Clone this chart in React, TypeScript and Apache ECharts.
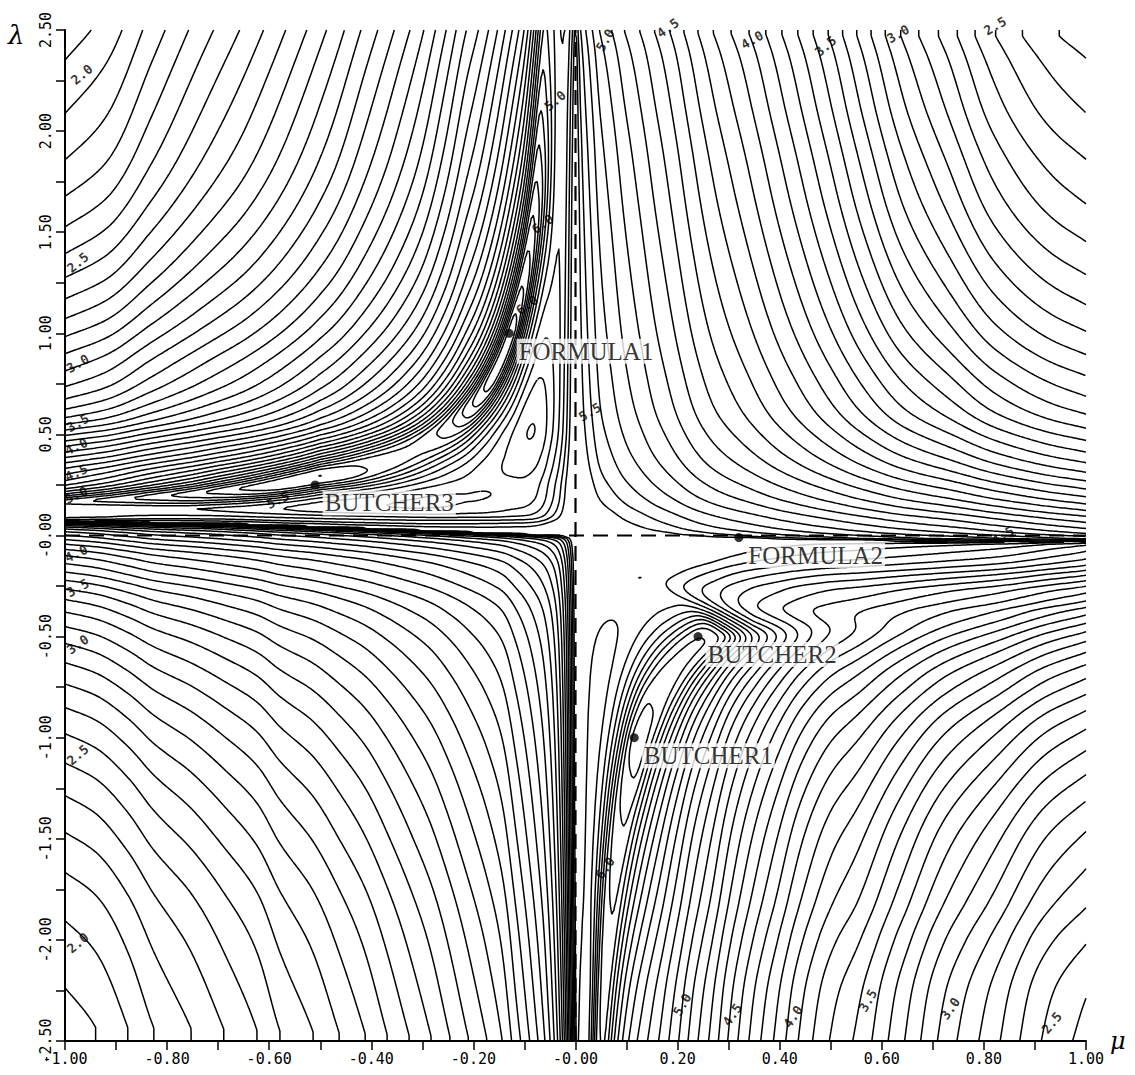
import React, { useEffect, useRef } from 'react';
import * as echarts from 'echarts';

// ---------------- contour levels (every 0.1) ----------------
const LEVELS = [1.9, 2.0, 2.1, 2.2, 2.3, 2.4, 2.5, 2.6, 2.7, 2.8, 2.9, 3.0, 3.1, 3.2, 3.3, 3.4, 3.5, 3.6, 3.7, 3.8, 3.9,
  4.0, 4.1, 4.2, 4.3, 4.4, 4.5, 4.6, 4.7, 4.8, 4.9, 5.0, 5.1, 5.2, 5.3, 5.4, 5.5, 5.6, 5.7, 5.8, 5.9, 6.0, 6.1, 6.2, 6.3];

// ---------------- level profiles read along the plot edges ----------------
// [ |coordinate| (|mu| on the top/bottom edge, |lambda|/2.5 on the side edges), level ]
const UR_TOP = [[0.0001, 5.57], [0.001, 5.52], [0.004, 5.42], [0.01, 5.3], [0.02, 5.2], [0.033, 5.1], [0.047, 5.0], [0.071, 4.9],
  [0.096, 4.8], [0.126, 4.7], [0.155, 4.6], [0.185, 4.5], [0.27, 4.2], [0.34, 4.0], [0.42, 3.75], [0.495, 3.5], [0.565, 3.25],
  [0.637, 3.0], [0.73, 2.75], [0.823, 2.5], [0.93, 2.32], [1.0, 2.25]];
const UR_RIGHT = [[0.0001, 5.57], [0.0006, 5.4], [0.002, 5.2], [0.005, 5.0], [0.01, 4.9], [0.016, 4.8], [0.028, 4.68], [0.044, 4.55],
  [0.068, 4.35], [0.084, 4.23], [0.104, 4.1], [0.12, 4.0], [0.156, 3.8], [0.2, 3.6], [0.252, 3.4], [0.328, 3.2], [0.416, 3.0],
  [0.528, 2.8], [0.668, 2.6], [0.756, 2.5], [0.848, 2.4], [0.956, 2.3], [1.0, 2.25]];
const UL_TOP = [[0.0001, 5.57], [0.002, 5.5], [0.008, 5.35], [0.02, 5.1], [0.035, 4.85], [0.05, 4.65], [0.065, 4.45], [0.08, 4.3],
  [0.1, 4.18], [0.126, 4.1], [0.159, 3.98], [0.194, 3.86], [0.214, 3.8], [0.257, 3.62], [0.3, 3.45], [0.356, 3.28], [0.413, 3.12],
  [0.48, 2.93], [0.556, 2.75], [0.64, 2.57], [0.74, 2.38], [0.83, 2.19], [0.92, 1.99], [1.0, 1.9]];
const UL_LEFT = [[0.0001, 5.57], [0.002, 5.45], [0.01, 5.2], [0.02, 5.0], [0.04, 4.55], [0.07, 4.3], [0.1, 4.18], [0.148, 3.84],
  [0.175, 3.62], [0.205, 3.39], [0.26, 3.14], [0.33, 2.94], [0.42, 2.7], [0.53, 2.46], [0.7, 2.19], [0.91, 1.98], [1.0, 1.9]];
const LL_BOTTOM = [[0.0001, 5.57], [0.003, 5.3], [0.01, 5.0], [0.02, 4.65], [0.035, 4.3], [0.06, 4.0], [0.09, 3.8], [0.117, 3.65],
  [0.144, 3.5], [0.174, 3.4], [0.21, 3.3], [0.246, 3.2], [0.283, 3.1], [0.326, 3.0], [0.369, 2.9], [0.412, 2.8],
  [0.463, 2.7], [0.514, 2.6], [0.579, 2.5], [0.624, 2.4], [0.689, 2.3], [0.753, 2.2], [0.826, 2.1], [0.877, 2.0], [0.94, 1.9], [1.0, 1.85]];
const LL_LEFT = [[0.0001, 5.57], [0.0005, 5.4], [0.002, 5.0], [0.006, 4.6], [0.015, 4.3], [0.036, 4.0], [0.065, 3.72], [0.1, 3.5],
  [0.15, 3.22], [0.208, 3.0], [0.3, 2.75], [0.42, 2.5], [0.6, 2.22], [0.79, 2.0], [1.0, 1.85]];
const LR_BOTTOM = [[0.0001, 5.575], [0.005, 5.5], [0.015, 5.35], [0.03, 5.2], [0.05, 5.12], [0.068, 5.08], [0.097, 5.04], [0.126, 5.0],
  [0.16, 4.92], [0.195, 4.79], [0.23, 4.63], [0.267, 4.47], [0.307, 4.27], [0.348, 4.09], [0.395, 3.91], [0.444, 3.72],
  [0.5, 3.55], [0.553, 3.44], [0.635, 3.2], [0.718, 2.95], [0.82, 2.71], [0.925, 2.46], [1.0, 2.35]];
const LR_RIGHT = [[0.0001, 5.57], [0.001, 5.4], [0.004, 5.25], [0.012, 5.15], [0.022, 5.08], [0.034, 5.0], [0.046, 4.9], [0.056, 4.8],
  [0.065, 4.7], [0.075, 4.6], [0.085, 4.5], [0.095, 4.4], [0.109, 4.3], [0.123, 4.2], [0.135, 4.1], [0.152, 4.0], [0.188, 3.8],
  [0.234, 3.6], [0.261, 3.5], [0.293, 3.4], [0.362, 3.2], [0.452, 3.0], [0.564, 2.8], [0.716, 2.6], [0.788, 2.5], [0.888, 2.4], [1.0, 2.35]];

const CENTRE_PLATEAU = 5.58;
const CORNER_SQUARENESS = 0.25; // combining power grows from 1 (additive, near the outer corners) towards the axes

// ridge along |mu|*|lambda|/2.5 = c (upper-left and lower-right quadrants): [|mu|, c] and [|mu| on the ridge, peak level]
const UL_RIDGE_C = [[0, 0.05], [0.5, 0.05], [0.75, 0.038], [1.0, 0.03]];
const UL_RIDGE_PEAK = [[0.04, 5.2], [0.05, 5.35], [0.06, 5.55], [0.07, 5.75], [0.09, 6.0], [0.11, 6.15], [0.125, 6.25], [0.16, 6.25],
  [0.2, 6.1], [0.25, 5.85], [0.32, 5.72], [0.4, 5.78], [0.5, 5.9], [0.6, 5.85], [0.75, 5.6], [1.0, 5.2]];
const LR_RIDGE_C = [[0, 0.05], [0.35, 0.05], [1.0, 0.02]];
const LR_RIDGE_PEAK = [[0.04, 5.9], [0.05, 6.0], [0.065, 6.08], [0.08, 6.15], [0.1, 6.25], [0.12, 6.35], [0.14, 6.32], [0.17, 6.25],
  [0.2, 6.22], [0.25, 6.2], [0.27, 6.1], [0.3, 5.6], [0.34, 5.0], [0.4, 4.5], [1.0, 4.0]];
// lambda position of the horizontal arm of the central cross, by mu
const ARM_SHIFT = [[-1, 0.07], [-0.7, 0.06], [-0.4, 0.035], [-0.15, 0.012], [0, 0.0], [0.15, -0.01], [0.4, -0.022], [0.7, -0.03], [1.0, -0.03]];

// ---------------- axes ----------------
const X_TICK_LABELS = ['-1.00', '-0.80', '-0.60', '-0.40', '-0.20', '-0.00', '0.20', '0.40', '0.60', '0.80', '1.00'];
const Y_TICK_LABELS = ['-2.50', '-2.00', '-1.50', '-1.00', '-0.50', '-0.00', '0.50', '1.00', '1.50', '2.00', '2.50'];

// ---------------- marked methods ----------------
const POINT_NAMES = ['FORMULA1', 'BUTCHER3', 'FORMULA2', 'BUTCHER2', 'BUTCHER1'];
const POINT_MU = [-0.13, -0.51, 0.32, 0.24, 0.115];
const POINT_LAMBDA = [1.0, 0.25, -0.01, -0.5, -1.0];

// ---------------- contour labels ----------------
const CLABEL_TEXT = ['5.0', '4.5', '4.0', '3.5', '3.0', '2.5',
  '5.0', '6.0', '6.0', '5.5', '5.5', '4.5',
  '2.0', '2.5', '3.0', '3.5', '4.0', '4.5', '5.0',
  '4.0', '3.5', '3.0', '2.5', '2.0',
  '5.0', '4.5', '4.0', '3.5', '3.0', '2.5', '6.0'];
const CLABEL_MU = [0.058, 0.181, 0.346, 0.49, 0.632, 0.822,
  -0.04, -0.064, -0.095, 0.028, -0.583, 0.837,
  -0.967, -0.975, -0.975, -0.975, -0.978, -0.978, -0.978,
  -0.978, -0.975, -0.975, -0.975, -0.975,
  0.209, 0.307, 0.426, 0.573, 0.734, 0.933, 0.058];
const CLABEL_LAMBDA = [2.45, 2.51, 2.45, 2.42, 2.48, 2.52,
  2.15, 1.54, 1.14, 0.61, 0.175, 0.0,
  2.28, 1.35, 0.85, 0.556, 0.44, 0.31, 0.2,
  -0.09, -0.26, -0.54, -1.085, -2.015,
  -2.32, -2.37, -2.38, -2.3, -2.34, -2.41, -1.645];
const CLABEL_ANGLE = [60, 35, 30, 40, 30, 30,
  40, 35, 35, 30, 25, 30,
  40, 40, 30, 30, 25, 25, 25,
  25, 30, 35, 40, 40,
  60, 55, 55, 60, 55, 50, 55];

// ---------------- helpers ----------------
function pchip(xs: number[], ys: number[]) {
  const n = xs.length;
  const h: number[] = [], d: number[] = [];
  for (let i = 0; i < n - 1; i++) { h.push(xs[i + 1] - xs[i]); d.push((ys[i + 1] - ys[i]) / (xs[i + 1] - xs[i])); }
  const m: number[] = new Array(n).fill(0);
  m[0] = d[0]; m[n - 1] = d[n - 2];
  for (let i = 1; i < n - 1; i++) {
    if (d[i - 1] * d[i] <= 0) m[i] = 0;
    else { const w1 = 2 * h[i] + h[i - 1], w2 = h[i] + 2 * h[i - 1]; m[i] = (w1 + w2) / (w1 / d[i - 1] + w2 / d[i]); }
  }
  return (x: number) => {
    if (x <= xs[0]) return ys[0];
    if (x >= xs[n - 1]) return ys[n - 1];
    let lo = 0, hi = n - 1;
    while (hi - lo > 1) { const mid = (lo + hi) >> 1; if (xs[mid] <= x) lo = mid; else hi = mid; }
    const hh = xs[hi] - xs[lo], t = (x - xs[lo]) / hh, t2 = t * t, t3 = t2 * t;
    return (2 * t3 - 3 * t2 + 1) * ys[lo] + (t3 - 2 * t2 + t) * hh * m[lo] + (-2 * t3 + 3 * t2) * ys[hi] + (t3 - t2) * hh * m[hi];
  };
}
function logTable(tbl: number[][]) { return pchip(tbl.map(p => Math.log10(p[0])), tbl.map(p => p[1])); }
function linInterp(tbl: number[][], x: number) {
  if (x <= tbl[0][0]) return tbl[0][1];
  const n = tbl.length;
  if (x >= tbl[n - 1][0]) return tbl[n - 1][1];
  for (let k = 0; k < n - 1; k++) {
    if (x <= tbl[k + 1][0]) { const t = (x - tbl[k][0]) / (tbl[k + 1][0] - tbl[k][0]); return tbl[k][1] + t * (tbl[k + 1][1] - tbl[k][1]); }
  }
  return tbl[n - 1][1];
}

// quadrant field: corner + p-norm of the two edge-profile excesses (honours both edge profiles exactly)
function makeQuadrant(horiz: number[][], vert: number[][]) {
  const H = logTable(horiz), V = logTable(vert);
  const corner = horiz[horiz.length - 1][1];
  return (au: number, aw: number) => {
    const a = Math.max(0, H(Math.log10(au)) - corner);
    const b = Math.max(0, V(Math.log10(aw)) - corner);
    const p = Math.min(4, 1 + CORNER_SQUARENESS * a * b);
    const v = corner + Math.pow(Math.pow(a, p) + Math.pow(b, p), 1 / p);
    return Math.min(v, CENTRE_PLATEAU);
  };
}

function ridge(v0: number, au: number, aw: number, cTbl: number[][], peak: (x: number) => number, kappa: number) {
  const c = linInterp(cTbl, au);
  const s = au * aw;
  const d = s - c;
  const wgt = s < c ? s * s : s * c;
  const R = Math.abs(d) / Math.sqrt(d * d + kappa * wgt + 1e-30);
  const ur = Math.sqrt(c * au / Math.max(aw, 1e-9));
  const H = peak(Math.log10(Math.max(ur, 1e-4)));
  const f = Math.pow(10, v0 - H);
  const r2p = Math.pow(R, 3);
  return v0 - 0.5 * Math.log10((r2p + f * f) / (1 + f * f));
}

const NX = 520, NY = 516;
const MIN_CHAIN_POINTS = 6; // drop specks smaller than a few grid cells

function buildField() {
  const ur = makeQuadrant(UR_TOP, UR_RIGHT);
  const ul = makeQuadrant(UL_TOP, UL_LEFT);
  const ll = makeQuadrant(LL_BOTTOM, LL_LEFT);
  const lr = makeQuadrant(LR_BOTTOM, LR_RIGHT);
  const ulPeak = logTable(UL_RIDGE_PEAK), lrPeak = logTable(LR_RIDGE_PEAK);
  const xs = new Float64Array(NX), ys = new Float64Array(NY);
  for (let i = 0; i < NX; i++) xs[i] = -1 + 2 * i / (NX - 1);
  for (let j = 0; j < NY; j++) ys[j] = 2.5 - 5 * j / (NY - 1);
  const F = new Float64Array(NX * NY);
  for (let i = 0; i < NX; i++) {
    const mu = xs[i];
    const shift = linInterp(ARM_SHIFT, mu);
    const au = Math.max(Math.abs(mu), 1e-7);
    for (let j = 0; j < NY; j++) {
      const w = (ys[j] - shift) / 2.5;
      const aw = Math.max(Math.abs(w), 1e-7);
      let v: number;
      if (w >= 0) {
        if (mu >= 0) v = ur(au, aw);
        else v = ridge(ul(au, aw), au, aw, UL_RIDGE_C, ulPeak, 2.0);
      } else {
        if (mu < 0) v = ll(au, aw);
        else v = ridge(lr(au, aw), au, aw, LR_RIDGE_C, lrPeak, 1.2);
      }
      F[j * NX + i] = v;
    }
  }
  return { F, xs, ys };
}

function contourLevel(F: Float64Array, xs: Float64Array, ys: Float64Array, L: number) {
  const segA: number[] = [], segB: number[] = [];
  const pts = new Map<number, number[]>();
  const adj = new Map<number, number[]>();
  const edgePt = (id: number) => {
    if (pts.has(id)) return;
    const cell = id >> 1; const i = cell % NX; const j = (cell - i) / NX;
    if ((id & 1) === 0) {
      const a = F[j * NX + i], b = F[j * NX + i + 1]; const t = (L - a) / (b - a);
      pts.set(id, [xs[i] + t * (xs[i + 1] - xs[i]), ys[j]]);
    } else {
      const a = F[j * NX + i], b = F[(j + 1) * NX + i]; const t = (L - a) / (b - a);
      pts.set(id, [xs[i], ys[j] + t * (ys[j + 1] - ys[j])]);
    }
  };
  const add = (e1: number, e2: number) => {
    const k = segA.length; segA.push(e1); segB.push(e2);
    edgePt(e1); edgePt(e2);
    const a1 = adj.get(e1); if (a1) a1.push(k); else adj.set(e1, [k]);
    const a2 = adj.get(e2); if (a2) a2.push(k); else adj.set(e2, [k]);
  };
  for (let j = 0; j < NY - 1; j++) {
    for (let i = 0; i < NX - 1; i++) {
      const tl = F[j * NX + i], tr = F[j * NX + i + 1], bl = F[(j + 1) * NX + i], br = F[(j + 1) * NX + i + 1];
      const code = (tl > L ? 8 : 0) | (tr > L ? 4 : 0) | (br > L ? 2 : 0) | (bl > L ? 1 : 0);
      if (code === 0 || code === 15) continue;
      const top = 2 * (j * NX + i), bottom = 2 * ((j + 1) * NX + i), left = 2 * (j * NX + i) + 1, right = 2 * (j * NX + i + 1) + 1;
      switch (code) {
        case 1: case 14: add(left, bottom); break;
        case 2: case 13: add(bottom, right); break;
        case 3: case 12: add(left, right); break;
        case 4: case 11: add(top, right); break;
        case 6: case 9: add(top, bottom); break;
        case 7: case 8: add(left, top); break;
        case 5: {
          const c = (tl + tr + bl + br) / 4;
          if (c > L) { add(left, top); add(bottom, right); } else { add(left, bottom); add(top, right); }
          break;
        }
        case 10: {
          const c = (tl + tr + bl + br) / 4;
          if (c > L) { add(top, right); add(left, bottom); } else { add(left, top); add(bottom, right); }
          break;
        }
      }
    }
  }
  const n = segA.length;
  const used = new Uint8Array(n);
  const out: any[] = [];
  const walk = (start: number) => {
    const chain: number[] = [];
    let cur = start;
    for (;;) {
      const list = adj.get(cur);
      if (!list) break;
      let nxt = -1;
      for (const s of list) if (!used[s]) { nxt = s; break; }
      if (nxt < 0) break;
      used[nxt] = 1;
      cur = segA[nxt] === cur ? segB[nxt] : segA[nxt];
      chain.push(cur);
    }
    return chain;
  };
  for (let s = 0; s < n; s++) {
    if (used[s]) continue;
    used[s] = 1;
    const fwd = walk(segB[s]);
    const back = walk(segA[s]);
    const ids = back.reverse().concat([segA[s], segB[s]], fwd);
    if (ids.length < MIN_CHAIN_POINTS) continue;
    for (const id of ids) out.push(pts.get(id));
    out.push([NaN, NaN]);
  }
  return out;
}

export default function App() {
  const ref = useRef<HTMLDivElement>(null);
  useEffect(() => {
    if (!ref.current) return;
    const chart = echarts.init(ref.current, null, { renderer: 'svg' });
    const { F, xs, ys } = buildField();
    const series: any[] = LEVELS.map(L => ({
      type: 'line',
      name: 'level ' + L.toFixed(1),
      data: contourLevel(F, xs, ys, L),
      symbol: 'none',
      showSymbol: false,
      connectNulls: false,
      silent: true,
      clip: true,
      lineStyle: { color: '#000', width: 1.5 },
      z: 2,
    }));
    series.push({
      type: 'line', data: [[0, -2.5], [0, 2.5]], symbol: 'none', silent: true, z: 3,
      lineStyle: { color: '#000', width: 2.2, type: [15, 9] },
    });
    series.push({
      type: 'line', data: [[-1, 0], [1, 0]], symbol: 'none', silent: true, z: 3,
      lineStyle: { color: '#000', width: 2.2, type: [15, 9] },
    });
    series.push({
      type: 'scatter', symbolSize: 1, silent: true, clip: false, z: 5,
      itemStyle: { color: 'rgba(0,0,0,0)' },
      data: CLABEL_TEXT.map((t, k) => ({
        value: [CLABEL_MU[k], CLABEL_LAMBDA[k]],
        label: { show: true, formatter: t, rotate: CLABEL_ANGLE[k], position: 'inside' },
      })),
      label: { fontFamily: 'DejaVu Sans Mono', fontSize: 13, fontWeight: 'bold', color: '#000' },
    });
    series.push({
      type: 'scatter', symbol: 'circle', symbolSize: 9, z: 6, clip: false,
      itemStyle: { color: '#000' },
      data: POINT_NAMES.map((nm, k) => ({ value: [POINT_MU[k], POINT_LAMBDA[k]], name: nm })),
      label: {
        show: true, position: 'right', formatter: '{b}', offset: [-2, 18],
        fontFamily: 'Liberation Serif', fontSize: 25, color: '#000', backgroundColor: '#fff', padding: [0, 2],
      },
    });

    chart.setOption({
      animation: false,
      backgroundColor: '#fff',
      grid: { left: 65, right: 49, top: 30, bottom: 34, containLabel: false },
      xAxis: {
        type: 'value', min: -1, max: 1, interval: 0.1,
        name: 'μ', nameLocation: 'end', nameGap: 20,
        nameTextStyle: { fontFamily: 'DejaVu Serif', fontStyle: 'italic', fontSize: 24, color: '#000' },
        axisLine: { onZero: false, lineStyle: { color: '#000', width: 2 } },
        axisTick: { length: 9, lineStyle: { color: '#000', width: 1.5 } },
        splitLine: { show: false },
        axisLabel: {
          color: '#000', fontFamily: 'DejaVu Sans Mono', fontSize: 15, margin: 10, showMinLabel: true, showMaxLabel: true,
          formatter: (v: number) => { const k = Math.round((v + 1) * 10); return k % 2 === 0 ? X_TICK_LABELS[k / 2] : ''; },
        },
      },
      yAxis: {
        type: 'value', min: -2.5, max: 2.5, interval: 0.25,
        axisLine: { onZero: false, lineStyle: { color: '#000', width: 2 } },
        axisTick: { length: 9, lineStyle: { color: '#000', width: 1.5 } },
        splitLine: { show: false },
        axisLabel: {
          color: '#000', fontFamily: 'DejaVu Sans Mono', fontSize: 15, margin: 12, rotate: 90, showMinLabel: true, showMaxLabel: true,
          formatter: (v: number) => { const k = Math.round((v + 2.5) * 4); return k % 2 === 0 ? Y_TICK_LABELS[k / 2] : ''; },
        },
      },
      graphic: [{ type: 'text', left: 8, top: 22, style: { text: 'λ', font: 'italic 26px DejaVu Serif', fill: '#000' } }],
      series,
    });
    return () => chart.dispose();
  }, []);
  return <div ref={ref} style={{ position: 'absolute', left: 0, top: 0, width: 1135, height: 1075, background: '#fff' }} />;
}
